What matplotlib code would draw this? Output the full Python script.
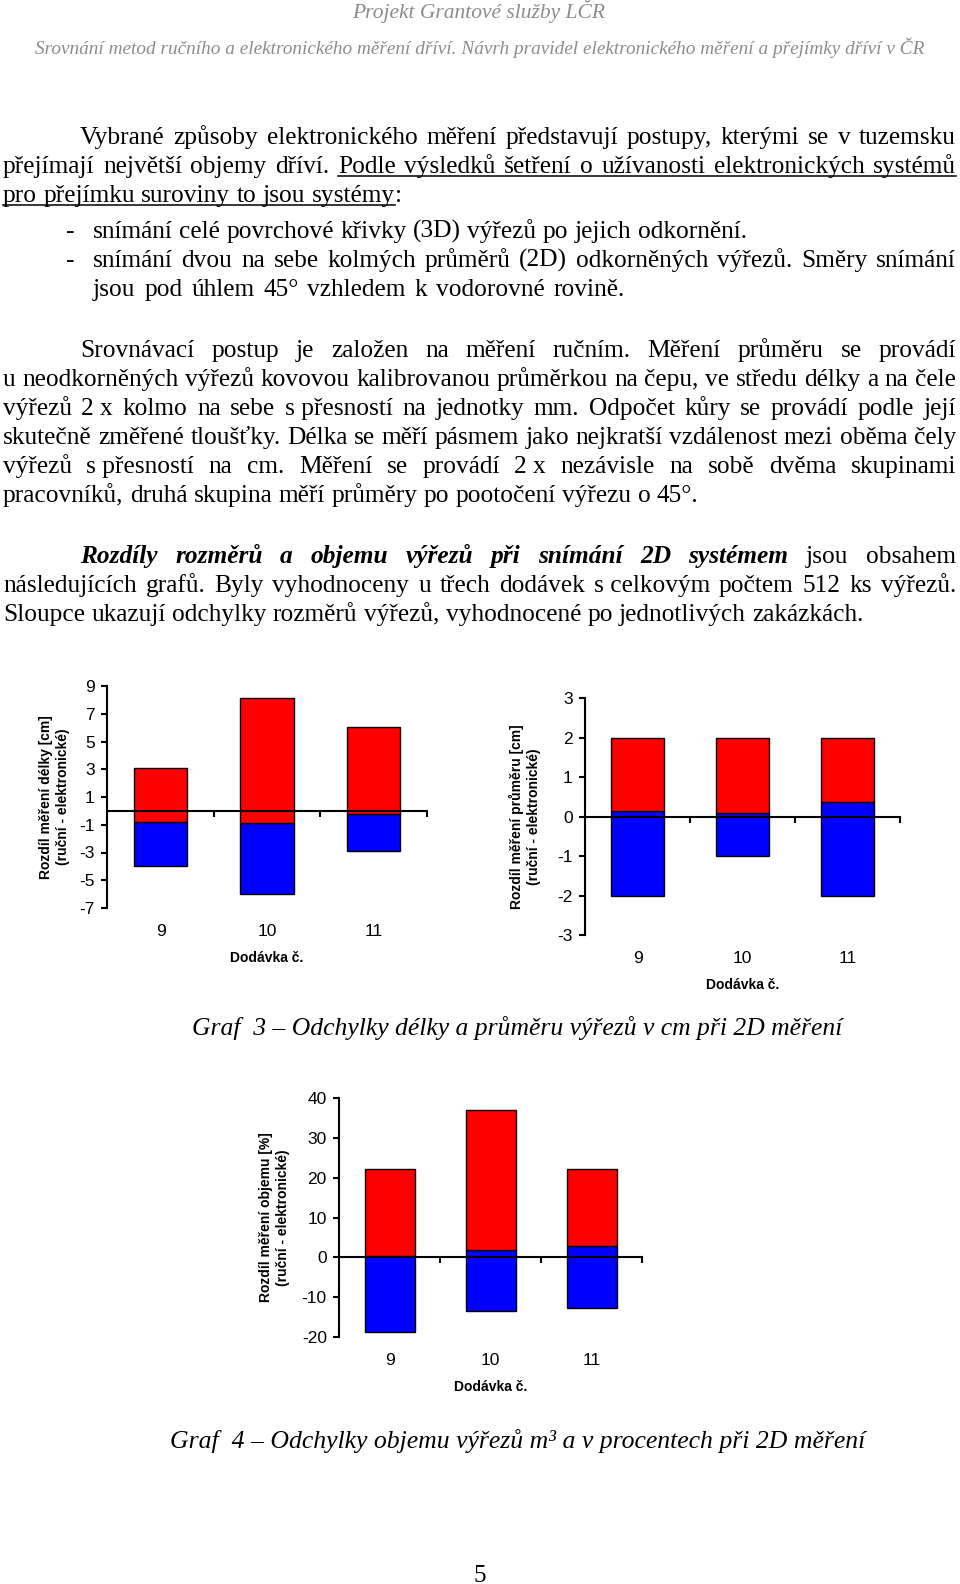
import numpy as np
import matplotlib
matplotlib.use('Agg')
import matplotlib.pyplot as plt
from matplotlib.transforms import IdentityTransform
from matplotlib.lines import Line2D

# --- data ---
deliveries = [9, 10, 11]

len_min = [-4.0, -6.0, -2.9]
len_mid = [-0.8, -0.9, -0.25]
len_max = [3.1, 8.1, 6.05]

dia_min = [-2.0, -1.0, -2.0]
dia_mid = [0.15, 0.08, 0.36]
dia_max = [2.0, 2.0, 2.0]

vol_min = [-18.9, -13.6, -12.8]
vol_mid = [0.4, 1.85, 2.9]
vol_max = [22.3, 37.1, 22.3]

W, H = 960, 1584
plt.rcParams['font.family'] = ['Liberation Sans', 'DejaVu Sans']
plt.rcParams['axes.unicode_minus'] = False

fig = plt.figure(figsize=(W / 100, H / 100), dpi=100)
renderer = fig.canvas.get_renderer()
PX = IdentityTransform()

SERIF = 'Liberation Serif'
BODY = 18.3
STYLES = {'n': {}, 'u': {}, 'bi': {'weight': 'bold', 'style': 'italic'}}


def put(x, y, s, **kw):
    """text in page pixels, y measured from top, baseline anchored"""
    kw.setdefault('family', SERIF)
    kw.setdefault('size', BODY)
    return fig.text(x, H - y, s, transform=PX, va='baseline', **kw)


def fitted(xc, y, s, width, **kw):
    t = put(xc, y, s, ha='center', size=10, **kw)
    w = t.get_window_extent(renderer).width
    t.set_fontsize(10 * width / w)
    return t


def text_line(segs, y, x0, x1=None):
    # split segments in words, a word may hold pieces of several styles
    words = []
    glue = False
    for s, st in segs:
        parts = s.split(' ')
        for i, p in enumerate(parts):
            if p == '':
                continue
            if i == 0 and glue and words:
                words[-1].append((p, st))
            else:
                words.append([(p, st)])
        glue = not s.endswith(' ')

    items = []
    for w in words:
        pieces = []
        for p, st in w:
            t = put(0, y, p, **STYLES[st])
            pieces.append((t, t.get_window_extent(renderer).width, st))
        items.append(pieces)
    widths = [sum(pw for _, pw, _ in w) for w in items]

    space = BODY * 100 / 72 * 0.25
    if x1 is not None and len(items) > 1:
        space = (x1 - x0 - sum(widths)) / (len(items) - 1)

    spans = []
    x = x0
    for w, ww in zip(items, widths):
        for t, pw, st in w:
            t.set_x(x)
            if st == 'u':
                if spans and x - spans[-1][1] <= space + 1:
                    spans[-1][1] = x + pw
                else:
                    spans.append([x, x + pw])
            x += pw
        x += space
    for a, b in spans:
        fig.add_artist(Line2D([a, b], [H - y - 3, H - y - 3], transform=PX,
                              color='black', lw=1.1))


# --- page header ---
GRAY = '#8c8c8c'
fitted(479, 18, 'Projekt Grantové služby LČR', 254, style='italic', color=GRAY)
fitted(480, 54, 'Srovnání metod ručního a elektronického měření dříví. '
       'Návrh pravidel elektronického měření a přejímky dříví v ČR', 892,
       style='italic', color=GRAY)

# --- body text ---
L, R, IND = 3, 956, 80
text_line([('Vybrané způsoby elektronického měření představují postupy, kterými se v tuzemsku', 'n')], 144, IND, R)
text_line([('přejímají největší objemy dříví. ', 'n'),
           ('Podle výsledků šetření o užívanosti elektronických systémů', 'u')], 173, L, R)
text_line([('pro přejímku suroviny to jsou systémy', 'u'), (':', 'n')], 202, L)
put(66, 238, '-')
text_line([('snímání celé povrchové křivky (3D) výřezů po jejich odkornění.', 'n')], 238, 93)
put(66, 267, '-')
text_line([('snímání dvou na sebe kolmých průměrů (2D) odkorněných výřezů. Směry snímání', 'n')], 267, 93, R)
text_line([('jsou pod úhlem 45° vzhledem k vodorovné rovině.', 'n')], 296, 93, 625)

text_line([('Srovnávací postup je založen na měření ručním. Měření průměru se provádí', 'n')], 357, IND, R)
text_line([('u neodkorněných výřezů kovovou kalibrovanou průměrkou na čepu, ve středu délky a na čele', 'n')], 386, L, R)
text_line([('výřezů 2\u00a0x kolmo na sebe s\u00a0přesností na jednotky mm. Odpočet kůry se provádí podle její', 'n')], 415, L, R)
text_line([('skutečně změřené tloušťky. Délka se měří pásmem jako nejkratší vzdálenost mezi oběma čely', 'n')], 444, L, R)
text_line([('výřezů s\u00a0přesností na cm. Měření se provádí 2\u00a0x nezávisle na sobě dvěma skupinami', 'n')], 473, L, R)
text_line([('pracovníků, druhá skupina měří průměry po pootočení výřezu o 45°.', 'n')], 502, L)

text_line([('Rozdíly rozměrů a objemu výřezů při snímání 2D systémem ', 'bi'),
           ('jsou obsahem', 'n')], 563, IND, R)
text_line([('následujících grafů. Byly vyhodnoceny u třech dodávek s\u00a0celkovým počtem 512 ks výřezů.', 'n')], 592, L, R)
text_line([('Sloupce ukazují odchylky rozměrů výřezů, vyhodnocené po jednotlivých zakázkách.', 'n')], 621, L)


# --- charts ---
def chart(box, lo, mid, hi, ylim, yticks, ylabel, ylabel_x):
    left, top, right, bottom = box
    ax = fig.add_axes([left / W, 1 - bottom / H, (right - left) / W, (bottom - top) / H])
    ax.bar(deliveries, np.subtract(mid, lo), bottom=lo, width=0.5,
           color='#0000ff', edgecolor='black', linewidth=1)
    ax.bar(deliveries, np.subtract(hi, mid), bottom=mid, width=0.5,
           color='#ff0000', edgecolor='black', linewidth=1)
    ax.set_xlim(deliveries[0] - 0.5, deliveries[-1] + 0.5)
    ax.set_ylim(ylim)
    ax.set_yticks(yticks)

    ax.spines['top'].set_visible(False)
    ax.spines['right'].set_visible(False)
    ax.spines['bottom'].set_position(('data', 0))
    ax.spines['left'].set_linewidth(1.5)
    ax.spines['bottom'].set_linewidth(1.5)
    # tick marks on the zero line between the deliveries
    ax.set_xticks(np.array(deliveries) + 0.5)
    ax.tick_params(axis='x', length=4, width=1.5, labelbottom=False)
    ax.tick_params(axis='y', length=4, width=1.5, pad=5, labelsize=12.5)

    sec = ax.secondary_xaxis('bottom')
    sec.set_xticks(deliveries)
    sec.tick_params(length=0, pad=11.5, labelsize=12.5)
    sec.spines['bottom'].set_visible(False)
    sec.set_xlabel('Dodávka č.', fontweight='bold', fontsize=10, labelpad=9)

    ax.set_ylabel(ylabel, fontweight='bold', fontsize=10, va='center', ha='center', linespacing=1.3)
    ax.yaxis.set_label_coords(ylabel_x, 0.5)
    return ax


chart((107.3, 686, 426.7, 908), len_min, len_mid, len_max, (-7, 9), range(-7, 10, 2),
      'Rozdíl měření délky [cm]\n(ruční - elektronické)', -0.165)
chart((585, 698.3, 900, 935), dia_min, dia_mid, dia_max, (-3, 3), range(-3, 4),
      'Rozdíl měření průměru [cm]\n(ruční - elektronické)', -0.191)
chart((339.3, 1098.3, 642.3, 1336.7), vol_min, vol_mid, vol_max, (-20, 40), range(-20, 41, 10),
      'Rozdíl měření objemu [%]\n(ruční - elektronické)', -0.2145)

# --- captions and page number ---
fitted(517, 1035, 'Graf  3 – Odchylky délky a průměru výřezů v cm při 2D měření', 650, style='italic')
fitted(517.5, 1448, 'Graf  4 – Odchylky objemu výřezů m³ a v procentech při 2D měření', 695, style='italic')
put(480, 1582, '5', ha='center')

fig.savefig('out.png', dpi=100)
